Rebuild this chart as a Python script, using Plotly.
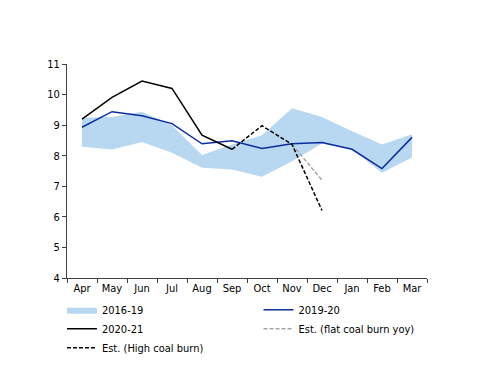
import plotly.graph_objects as go

months = ["Apr", "May", "Jun", "Jul", "Aug", "Sep", "Oct", "Nov", "Dec", "Jan", "Feb", "Mar"]
band_low = [8.29, 8.20, 8.45, 8.10, 7.61, 7.55, 7.31, 7.82, 8.40, 8.20, 7.44, 7.94]
band_high = [9.24, 9.27, 9.44, 9.00, 8.02, 8.37, 8.67, 9.55, 9.27, 8.80, 8.37, 8.70]
y2019_20 = [8.93, 9.44, 9.31, 9.05, 8.39, 8.49, 8.24, 8.39, 8.43, 8.21, 7.58, 8.60]
y2020_21 = [9.20, 9.91, 10.44, 10.20, 8.67, 8.21]
est_high_x = ["Sep", "Oct", "Nov", "Dec"]
est_high = [8.21, 8.98, 8.37, 6.21]
est_flat_x = ["Nov", "Dec"]
est_flat = [8.37, 7.20]

FONT = "DejaVu Sans Condensed, DejaVu Sans, sans-serif"

fig = go.Figure()
fig.add_trace(go.Scatter(x=months, y=band_low, mode="lines", line=dict(width=0, color="#b8d7f0"),
                         showlegend=False, hoverinfo="skip"))
fig.add_trace(go.Scatter(x=months, y=band_high, mode="lines", fill="tonexty", fillcolor="#b8d7f0",
                         line=dict(width=0, color="#b8d7f0"), name="2016-19", legend="legend"))
fig.add_trace(go.Scatter(x=months, y=y2019_20, mode="lines", line=dict(color="#0a2d9e", width=1.5),
                         name="2019-20", legend="legend2"))
fig.add_trace(go.Scatter(x=months[:len(y2020_21)], y=y2020_21, mode="lines", line=dict(color="black", width=1.5),
                         name="2020-21", legend="legend"))
fig.add_trace(go.Scatter(x=est_flat_x, y=est_flat, mode="lines", line=dict(color="#a6a6a6", width=1.5, dash="4px,2px"),
                         name="Est. (flat coal burn yoy)", legend="legend2"))
fig.add_trace(go.Scatter(x=est_high_x, y=est_high, mode="lines", line=dict(color="black", width=1.5, dash="4px,2px"),
                         name="Est. (High coal burn)", legend="legend"))

leg_common = dict(orientation="v", yanchor="top", xanchor="left", itemwidth=30,
                  font=dict(family=FONT, size=11), tracegroupgap=0, traceorder="normal",
                  bgcolor="rgba(0,0,0,0)")

fig.update_layout(
    width=500, height=386,
    margin=dict(l=59, r=81, t=56, b=116, autoexpand=False),
    paper_bgcolor="white", plot_bgcolor="white",
    font=dict(family=FONT, size=11, color="black"),
    showlegend=True,
    legend=dict(x=-0.014, y=-0.081, **leg_common),
    legend2=dict(x=0.532, y=-0.081, **leg_common),
    xaxis=dict(type="category", categoryorder="array", categoryarray=months,
               range=[-0.5, 11.5], showgrid=False, showline=True, linecolor="#404040",
               ticks="outside", tickson="boundaries", ticklen=4, tickcolor="#404040",
               tickangle=0, zeroline=False),
    yaxis=dict(range=[4, 11], dtick=1, showgrid=False, showline=True, linecolor="#404040",
               ticks="outside", ticklen=4, tickcolor="#404040", zeroline=False),
)
fig.write_html("out.html")
